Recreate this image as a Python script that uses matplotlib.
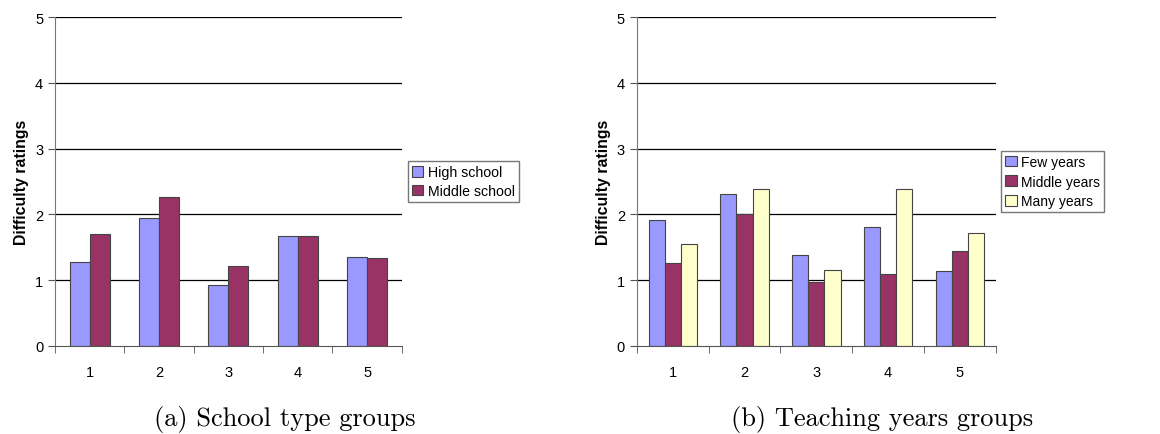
import matplotlib.pyplot as plt
import numpy as np

plt.rcParams['font.family'] = ['Liberation Sans', 'DejaVu Sans']

groups = ["1", "2", "3", "4", "5"]

high_school = [1.27, 1.94, 0.92, 1.67, 1.36]
middle_school = [1.70, 2.27, 1.21, 1.67, 1.33]

few_years = [1.91, 2.31, 1.38, 1.81, 1.14]
middle_years = [1.26, 2.00, 0.98, 1.10, 1.45]
many_years = [1.55, 2.39, 1.15, 2.38, 1.71]

blue = "#9999FF"
purple = "#993366"
yellow = "#FFFFCC"


def style_axes(ax):
    ax.set_ylim(0, 5)
    ax.set_xlim(-0.5, len(groups) - 0.5)
    ax.set_yticks(range(6))
    ax.set_xticks(range(len(groups)))
    ax.set_xticklabels(groups)
    ax.set_xticks(np.arange(-0.5, len(groups)), minor=True)
    ax.tick_params(axis='x', which='major', length=0, pad=14, labelsize=10.5)
    ax.tick_params(axis='x', which='minor', length=5, color='#555555')
    ax.tick_params(axis='y', length=5, color='#555555', labelsize=10.5)
    for y in range(1, 6):
        ax.axhline(y, color='black', lw=0.9, zorder=0)
    ax.spines['top'].set_visible(False)
    ax.spines['right'].set_visible(False)
    ax.spines['left'].set_color('#777777')
    ax.spines['bottom'].set_color('#555555')
    ax.set_ylabel("Difficulty ratings", fontweight='bold', fontsize=11.4)


fig = plt.figure(figsize=(11.6, 4.35), dpi=100)

ax1 = fig.add_axes([0.0474, 0.2023, 0.299, 0.7563])
x = np.arange(len(groups))
w = 0.287
ax1.bar(x - w / 2, high_school, w, color=blue, edgecolor='#444444', lw=0.8, label="High school", zorder=2)
ax1.bar(x + w / 2, middle_school, w, color=purple, edgecolor='#444444', lw=0.8, label="Middle school", zorder=2)
style_axes(ax1)
ax1.legend(loc='center left', bbox_to_anchor=(1.017, 0.5), fontsize=10.2, frameon=True,
           fancybox=False, edgecolor='#555555', handlelength=0.8, handleheight=0.8,
           handletextpad=0.3, borderpad=0.3, labelspacing=0.35, borderaxespad=0)

ax2 = fig.add_axes([0.549, 0.2023, 0.3095, 0.7563])
w2 = 0.225
ax2.bar(x - w2, few_years, w2, color=blue, edgecolor='#444444', lw=0.8, label="Few years", zorder=2)
ax2.bar(x, middle_years, w2, color=purple, edgecolor='#444444', lw=0.8, label="Middle years", zorder=2)
ax2.bar(x + w2, many_years, w2, color=yellow, edgecolor='#444444', lw=0.8, label="Many years", zorder=2)
style_axes(ax2)
ax2.legend(loc='center left', bbox_to_anchor=(1.015, 0.5), fontsize=10, frameon=True,
           fancybox=False, edgecolor='#555555', handlelength=0.8, handleheight=0.8,
           handletextpad=0.3, borderpad=0.3, labelspacing=0.4, borderaxespad=0)

fig.text(0.2457, 0.035, "(a) School type groups", ha='center', va='center', fontsize=19, family='cmr10')
fig.text(0.7603, 0.035, "(b) Teaching years groups", ha='center', va='center', fontsize=19, family='cmr10')

fig.savefig("out.png", dpi=100)
